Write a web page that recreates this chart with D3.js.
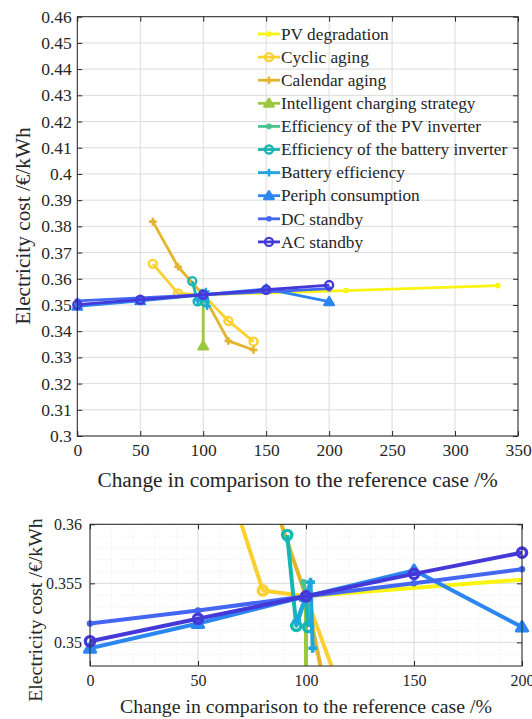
<!DOCTYPE html>
<html>
<head>
<meta charset="utf-8">
<script src="https://cdn.jsdelivr.net/npm/d3@7"></script>
<style>
body { margin: 0; background: #fff; }
svg text { font-family: "Liberation Serif", "Times New Roman", serif; fill: #262626; }
</style>
</head>
<body>
<script>
// series, in legend order
const seriesNames = ["PV degradation", "Cyclic aging", "Calendar aging", "Intelligent charging strategy",
    "Efficiency of the PV inverter", "Efficiency of the battery inverter", "Battery efficiency",
    "Periph consumption", "DC standby", "AC standby"];

const xPVdeg = [100, 213.5, 334];
const yPVdeg = [0.3539, 0.3555, 0.3574];
const xCyclic = [60, 80, 100, 120, 140];
const yCyclic = [0.3657, 0.3544, 0.3539, 0.3439, 0.3360];
const xCalendar = [60, 80, 100, 120, 140];
const yCalendar = [0.3818, 0.3646, 0.3539, 0.3363, 0.3328];
const xCharging = [100, 100];
const yCharging = [0.3539, 0.3344];
const xPVinv = [98.8, 100, 100.8];
const yPVinv = [0.3551, 0.3539, 0.3516];
const xBatInv = [91.3, 95.5, 100, 101];
const yBatInv = [0.3591, 0.3514, 0.3539, 0.3513];
const xBatEff = [95.7, 100, 102.1, 103.1];
const yBatEff = [0.3518, 0.3539, 0.3551, 0.3495];
const xPeriph = [0, 50, 100, 150, 200];
const yPeriph = [0.3495, 0.3516, 0.3539, 0.3561, 0.3513];
const xDC = [0, 50, 100, 150, 200];
const yDC = [0.3516, 0.3527, 0.3539, 0.3550, 0.3562];
const xAC = [0, 50, 100, 150, 200];
const yAC = [0.3501, 0.3520, 0.3539, 0.3558, 0.3576];

const xValues = [xPVdeg, xCyclic, xCalendar, xCharging, xPVinv, xBatInv, xBatEff, xPeriph, xDC, xAC];
const yValues = [yPVdeg, yCyclic, yCalendar, yCharging, yPVinv, yBatInv, yBatEff, yPeriph, yDC, yAC];

// ticks
const xTicksMain = [0, 50, 100, 150, 200, 250, 300, 350];
const yTicksMain = d3.range(0, 17).map(i => +(0.30 + i * 0.01).toFixed(2));
const xTicksZoom = [0, 50, 100, 150, 200];
const yTicksZoom = [0.35, 0.355, 0.36];

const colors = ["#f9f510", "#fcd031", "#e2b52c", "#9cc83e", "#45c48c", "#16b6b2",
    "#1fa6e0", "#2b86f0", "#4467f2", "#4438d8"];
const markers = [".", "o", "+", "^", ".", "o", "+", "^", ".", "o"];

const FONT = '"Liberation Serif", "Times New Roman", serif';

const series = seriesNames.map((name, i) => ({
    name: name,
    color: colors[i],
    marker: markers[i],
    points: xValues[i].map((x, j) => ({x: x, y: yValues[i][j]}))
}));

const svg = d3.select('body').append('svg')
    .attr('width', 532)
    .attr('height', 719)
    .attr('font-family', FONT);

function drawMarker(g, type, cx, cy, color, lw, s) {
    if (type === '.') {
        g.append('circle').attr('cx', cx).attr('cy', cy).attr('r', 2.8 * s).attr('fill', color);
    } else if (type === 'o') {
        g.append('circle').attr('cx', cx).attr('cy', cy).attr('r', 4 * s)
            .attr('fill', 'none').attr('stroke', color).attr('stroke-width', lw * 0.85);
    } else if (type === '+') {
        const a = 3.8 * s;
        g.append('path')
            .attr('d', `M${cx - a},${cy}H${cx + a}M${cx},${cy - a}V${cy + a}`)
            .attr('stroke', color).attr('stroke-width', lw * 0.9).attr('fill', 'none');
    } else if (type === '^') {
        const a = 4.6 * s;
        g.append('path')
            .attr('d', `M${cx},${cy - a}L${cx + a * 1.05},${cy + a * 0.75}L${cx - a * 1.05},${cy + a * 0.75}Z`)
            .attr('stroke', color).attr('stroke-width', lw * 0.8).attr('stroke-linejoin', 'round')
            .attr('fill', color);
    }
}

function fmt(d) { return String(+d.toFixed(3)); }

function drawPanel(p) {
    const x = d3.scaleLinear().domain(p.xDomain).range([p.left, p.right]);
    const y = d3.scaleLinear().domain(p.yDomain).range([p.bottom, p.top]);
    const g = svg.append('g');

    // minor grid
    if (p.xMinor) {
        g.append('g').selectAll('line').data(p.xMinor).enter().append('line')
            .attr('x1', d => x(d)).attr('x2', d => x(d))
            .attr('y1', p.top).attr('y2', p.bottom)
            .attr('stroke', '#e6e6e6').attr('stroke-width', 0.8).attr('stroke-dasharray', '1,2');
        g.append('g').selectAll('line').data(p.yMinor).enter().append('line')
            .attr('y1', d => y(d)).attr('y2', d => y(d))
            .attr('x1', p.left).attr('x2', p.right)
            .attr('stroke', '#e6e6e6').attr('stroke-width', 0.8).attr('stroke-dasharray', '1,2');
    }

    // major grid
    g.append('g').selectAll('line').data(p.xTicks).enter().append('line')
        .attr('x1', d => x(d)).attr('x2', d => x(d))
        .attr('y1', p.top).attr('y2', p.bottom)
        .attr('stroke', '#dcdcdc').attr('stroke-width', 1);
    g.append('g').selectAll('line').data(p.yTicks).enter().append('line')
        .attr('y1', d => y(d)).attr('y2', d => y(d))
        .attr('x1', p.left).attr('x2', p.right)
        .attr('stroke', '#dcdcdc').attr('stroke-width', 1);

    // axes, ticks inward on all four sides
    const axisStyle = sel => {
        sel.attr('font-family', FONT).attr('font-size', p.tickFont);
        sel.select('.domain').remove();
        sel.selectAll('line').attr('stroke', '#262626');
        sel.selectAll('text').attr('fill', '#262626')
            .style('font-family', FONT).style('font-size', p.tickFont + 'px');
    };
    g.append('g').attr('transform', `translate(0,${p.bottom})`)
        .call(d3.axisBottom(x).tickValues(p.xTicks).tickSize(-5).tickPadding(p.xPad).tickFormat(fmt))
        .call(axisStyle);
    g.append('g').attr('transform', `translate(0,${p.top})`)
        .call(d3.axisTop(x).tickValues(p.xTicks).tickSize(-5).tickFormat(''))
        .call(axisStyle);
    g.append('g').attr('transform', `translate(${p.left},0)`)
        .call(d3.axisLeft(y).tickValues(p.yTicks).tickSize(-5).tickPadding(p.yPad).tickFormat(fmt))
        .call(axisStyle);
    g.append('g').attr('transform', `translate(${p.right},0)`)
        .call(d3.axisRight(y).tickValues(p.yTicks).tickSize(-5).tickFormat(''))
        .call(axisStyle);

    // clip for lines
    const clipId = 'clip-' + p.id;
    svg.append('clipPath').attr('id', clipId).append('rect')
        .attr('x', p.left).attr('y', p.top)
        .attr('width', p.right - p.left).attr('height', p.bottom - p.top);

    const line = d3.line().x(d => x(d.x)).y(d => y(d.y));
    const inside = d => d.x >= p.xDomain[0] - 1e-9 && d.x <= p.xDomain[1] + 1e-9 &&
        d.y >= p.yDomain[0] - 1e-9 && d.y <= p.yDomain[1] + 1e-9;

    series.forEach(s => {
        const sg = g.append('g');
        sg.append('path')
            .attr('clip-path', `url(#${clipId})`)
            .attr('d', line(s.points))
            .attr('fill', 'none')
            .attr('stroke', s.color)
            .attr('stroke-width', p.lw)
            .attr('stroke-linejoin', 'round');
        s.points.filter(inside).forEach(d => {
            drawMarker(sg, s.marker, x(d.x), y(d.y), s.color, p.lw, p.ms);
        });
    });

    // box
    g.append('rect')
        .attr('x', p.left).attr('y', p.top)
        .attr('width', p.right - p.left).attr('height', p.bottom - p.top)
        .attr('fill', 'none').attr('stroke', '#262626').attr('stroke-width', 1);

    // axis labels
    g.append('text')
        .attr('x', (p.left + p.right) / 2 + p.xLabelDx)
        .attr('y', p.xLabelY)
        .attr('text-anchor', 'middle')
        .style('font-size', p.labelFont + 'px')
        .text('Change in comparison to the reference case /%');
    g.append('text')
        .attr('transform', `translate(${p.yLabelX},${p.yLabelY}) rotate(-90)`)
        .attr('text-anchor', 'middle')
        .style('font-size', p.labelFont + 'px')
        .text('Electricity cost /€/kWh');

    return {x: x, y: y, g: g};
}

drawPanel({
    id: 'main', left: 77.3, right: 518, top: 16.7, bottom: 436,
    xDomain: [0, 350], yDomain: [0.3, 0.46],
    xTicks: xTicksMain, yTicks: yTicksMain,
    tickFont: 17.5, labelFont: 21.3, xPad: 8, yPad: 5.5,
    lw: 2.8, ms: 1,
    xLabelY: 487, xLabelDx: 0, yLabelX: 30, yLabelY: 226
});

drawPanel({
    id: 'zoom', left: 90, right: 522, top: 524.3, bottom: 666,
    xDomain: [0, 200], yDomain: [0.348, 0.36],
    xTicks: xTicksZoom, yTicks: yTicksZoom,
    xMinor: d3.range(0, 201, 10), yMinor: d3.range(0, 13).map(i => +(0.348 + i * 0.001).toFixed(3)),
    tickFont: 16, labelFont: 19.8, xPad: 9, yPad: 8,
    lw: 4, ms: 1.15,
    xLabelY: 713, xLabelDx: 0, yLabelX: 42, yLabelY: 610
});

// legend (top panel, no box)
const legend = svg.append('g');
series.forEach((s, i) => {
    const ly = 34 + i * 23.1;
    const lg = legend.append('g');
    lg.append('line').attr('x1', 258).attr('x2', 280).attr('y1', ly).attr('y2', ly)
        .attr('stroke', s.color).attr('stroke-width', 2.8);
    drawMarker(lg, s.marker, 269, ly, s.color, 2.8, 1);
    lg.append('text').attr('x', 281).attr('y', ly).attr('dy', '0.33em')
        .style('font-size', '17.3px').text(s.name);
});
</script>
</body>
</html>
